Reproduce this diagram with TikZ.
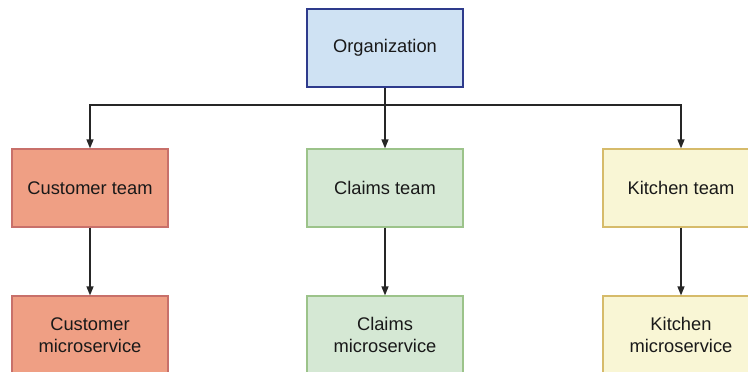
\documentclass[tikz,border=0pt]{standalone}
\usepackage{fontspec}
\setmainfont{Liberation Sans}
\usetikzlibrary{arrows.meta}
\definecolor{orgfill}{HTML}{CFE2F3}
\definecolor{orgdraw}{HTML}{2E3B8C}
\definecolor{custfill}{HTML}{EF9F84}
\definecolor{custdraw}{HTML}{C8706A}
\definecolor{clmfill}{HTML}{D5E8D4}
\definecolor{clmdraw}{HTML}{9CC38A}
\definecolor{kitfill}{HTML}{F9F6D5}
\definecolor{kitdraw}{HTML}{D6BB6A}
\tikzset{
  box/.style={rectangle, minimum width=156pt, minimum height=78pt, line width=1.2pt,
    align=center, inner sep=0pt, font=\fontsize{18.3}{22.5}\selectfont, text=black!90},
  org/.style={box, fill=orgfill, draw=orgdraw},
  cust/.style={box, fill=custfill, draw=custdraw},
  clm/.style={box, fill=clmfill, draw=clmdraw},
  kit/.style={box, fill=kitfill, draw=kitdraw},
  conn/.style={line width=1.3pt, draw=black!85, -{Triangle[length=9pt,width=7pt]}}
}
\begin{document}
\begin{tikzpicture}[x=1pt,y=-1pt]
\useasboundingbox (0,0) rectangle (748,372);
\node[org]  (org)  at (385,48) {Organization};
\node[cust] (cteam) at (90,188) {Customer team};
\node[clm]  (lteam) at (385,188) {Claims team};
\node[kit]  (kteam) at (681,188) {Kitchen team};
\node[cust] (cms) at (90,335) {Customer\\microservice};
\node[clm]  (lms) at (385,335) {Claims\\microservice};
\node[kit]  (kms) at (681,335) {Kitchen\\microservice};
\coordinate (split) at (385,105);
\draw[conn] (org.south) -- (lteam.north);
\draw[conn] (split) -| (cteam.north);
\draw[conn] (split) -| (kteam.north);
\draw[conn] (cteam) -- (cms);
\draw[conn] (lteam) -- (lms);
\draw[conn] (kteam) -- (kms);
\end{tikzpicture}
\end{document}
